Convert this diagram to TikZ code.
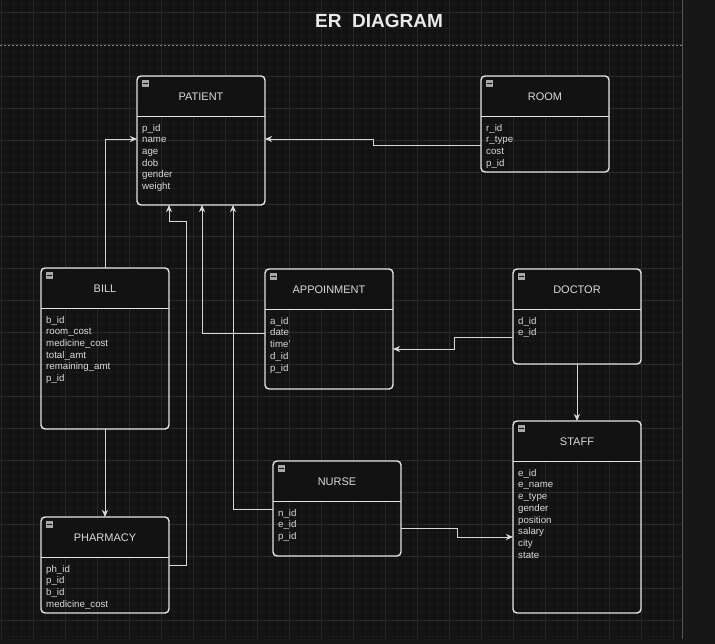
\documentclass[tikz,border=0pt]{standalone}
\usepackage{fontspec}
\setmainfont{Liberation Sans}
\usetikzlibrary{arrows.meta}
\definecolor{canvas}{HTML}{121212}
\definecolor{strip}{HTML}{171717}
\definecolor{minorg}{HTML}{191919}
\definecolor{majorg}{HTML}{2A2A2A}
\definecolor{edge}{HTML}{E4E4E4}
\definecolor{conncol}{HTML}{D8D8D8}
\definecolor{txt}{HTML}{DADADA}
\definecolor{icon}{HTML}{A8A8A8}
\tikzset{
  ebox/.style={draw=edge, line width=1.4pt, rounded corners=4pt, inner sep=0pt, outer sep=0pt},
  eline/.style={draw=edge, line width=1.4pt},
  etitle/.style={text=txt, font=\fontsize{11}{13}\selectfont, inner sep=0pt},
  eattr/.style={text=txt, font=\fontsize{9.7}{11}\selectfont, inner sep=0pt, anchor=west, text height=7pt, text depth=2.2pt},
  conn/.style={draw=conncol, line width=0.9pt, -{Stealth[length=7pt,width=6pt,inset=2pt]}},
}
\newcommand\erent[8]{%
  \fill[canvas] ({#2+1},{#3+1}) rectangle ({#2+#4-1},{#3+40.5});
  \node[ebox, minimum width=#4pt, minimum height=#5pt, anchor=north west] (#1) at (#2,#3) {};
  \draw[eline] ({#2},{#3+40.5}) -- ({#2+#4},{#3+40.5});
  \fill[icon] ({#2+5},{#3+4.3}) rectangle ({#2+11.5},{#3+10.8});
  \draw[canvas, line width=0.8pt] ({#2+6},{#3+7.5}) -- ({#2+10.5},{#3+7.5});
  \node[etitle] (#1-title) at ({#2+#4/2},{#3+20.5}) {#7};
  \foreach \a [count=\i] in {#8} {
    \node[eattr] (#1-\i) at ({#2+5},{#3+52.8+(\i-1)*11.7}) {\a};
  }
}
\begin{document}
\begin{tikzpicture}[x=1pt,y=-1pt]
\useasboundingbox (0,0) rectangle (715,644);
\fill[strip] (0,0) rectangle (715,644);
\fill[canvas] (0,0) rectangle (682,639);
% grid
\foreach \x in {5,13,...,681} \draw[minorg, line width=0.5pt] (\x,0) -- (\x,639);
\foreach \y in {4,12,...,636} \draw[minorg, line width=0.5pt] (0,\y) -- (682,\y);
\foreach \x in {1,33,...,673} \draw[majorg, line width=0.7pt] (\x,0) -- (\x,639);
\foreach \y in {12,44,...,620} \draw[majorg, line width=0.7pt] (0,\y) -- (682,\y);
\draw[majorg!80!white, line width=0.8pt] (682.5,0) -- (682.5,639);
% title and separator
\node[text=white!92!black, font=\bfseries\fontsize{19}{22}\selectfont, inner sep=0pt] (title) at (379,21) {ER\ \ DIAGRAM};
\draw[majorg!60!white, line width=0.8pt, dash pattern=on 2pt off 2pt] (0,45) -- (682,45);
% entities
\erent{patient}{137}{76}{128}{129}{}{PATIENT}{p\_id,name,age,dob,gender,weight}
\erent{room}{481}{76}{128}{96}{}{ROOM}{r\_id,r\_type,cost,p\_id}
\erent{bill}{41}{268}{128}{161}{}{BILL}{b\_id,room\_cost,medicine\_cost,total\_amt,remaining\_amt,p\_id}
\erent{appoin}{265}{269}{128}{120}{}{APPOINMENT}{a\_id,date,time',d\_id,p\_id}
\erent{doctor}{513}{269}{128}{95}{}{DOCTOR}{d\_id,e\_id}
\erent{staff}{513}{421}{128}{192}{}{STAFF}{e\_id,e\_name,e\_type,gender,position,salary,city,state}
\erent{nurse}{273}{461}{128}{95}{}{NURSE}{n\_id,e\_id,p\_id}
\erent{pharmacy}{41}{517}{128}{96}{}{PHARMACY}{ph\_id,p\_id,b\_id,medicine\_cost}
% connectors
\draw[conn] (room.west |- 0,145) -- (373,145) -- (373,139) -- (patient.east |- 0,139);
\draw[conn] (bill.north) -- (105,139) -- (patient.west |- 0,139);
\draw[conn] (bill.south) -- (pharmacy.north);
\draw[conn] (pharmacy.east |- 0,565) -- (186,565) -- (186,221) -- (169,221) -- (169,0 |- patient.south);
\draw[conn] (appoin.west |- 0,333) -- (202,333) -- (202,0 |- patient.south);
\draw[conn] (nurse.west |- 0,509) -- (233,509) -- (233,0 |- patient.south);
\draw[conn] (doctor.west |- 0,337) -- (454,337) -- (454,349) -- (appoin.east |- 0,349);
\draw[conn] (doctor.south) -- (staff.north);
\draw[conn] (nurse.east |- 0,528) -- (457,528) -- (457,537) -- (staff.west |- 0,537);
\end{tikzpicture}
\end{document}
